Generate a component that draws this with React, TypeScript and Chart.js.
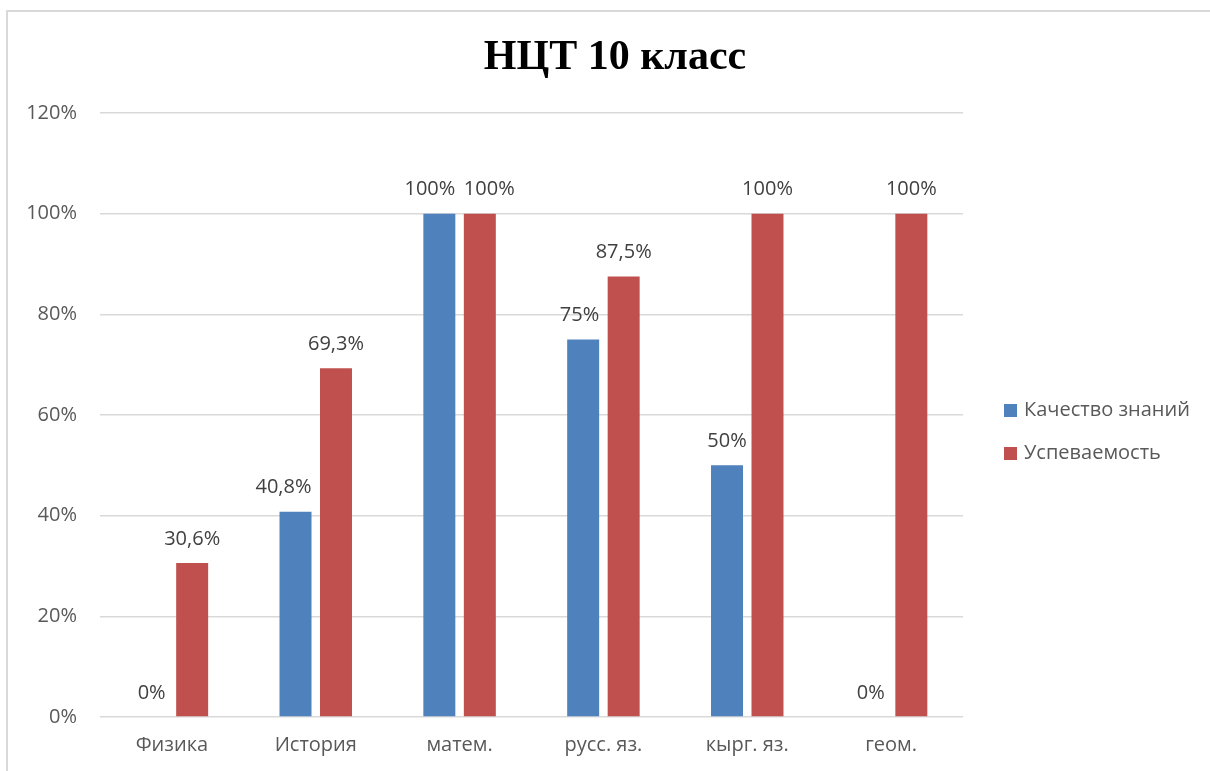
import React, { useEffect, useRef } from "react";
import { Chart, registerables } from "chart.js";

Chart.register(...registerables);

const title = "НЦТ 10 класс";
const categories = ["Физика", "История", "матем.", "русс. яз.", "кырг. яз.", "геом."];
const seriesNames = ["Качество знаний", "Успеваемость"];
const quality = [0, 40.8, 100, 75, 50, 0];
const progress = [30.6, 69.3, 100, 87.5, 100, 100];
const seriesColors = ["#4f81bd", "#c0504d"];
// data-label alignment relative to its bar (style only)
const qualityLabelAlign = ["center", "right", "right", "right", "center", "center"];
const progressLabelAlign = ["center", "center", "left", "center", "center", "center"];
const labelAligns = [qualityLabelAlign, progressLabelAlign];

const FONT = "'Open Sans', 'Liberation Sans', sans-serif";
const TEXT = "#595959";

const fmt = (v: number) => `${String(v).replace(".", ",")}%`;

const overlayPlugin = {
  id: "overlay",
  afterDatasetsDraw(chart: any) {
    const ctx = chart.ctx;
    ctx.save();
    ctx.fillStyle = "#404040";
    ctx.font = `20px ${FONT}`;
    ctx.textBaseline = "middle";
    chart.data.datasets.forEach((ds: any, di: number) => {
      const meta = chart.getDatasetMeta(di);
      meta.data.forEach((el: any, i: number) => {
        const align = labelAligns[di][i];
        let x = el.x;
        if (align === "right") x = el.x + el.width / 2;
        if (align === "left") x = el.x - el.width / 2;
        ctx.textAlign = align;
        ctx.fillText(fmt(ds.data[i]), x, el.y - 24);
      });
    });
    ctx.restore();
  },
  afterDraw(chart: any) {
    const ctx = chart.ctx;
    ctx.save();
    ctx.fillStyle = "#000000";
    ctx.font = `bold 42px 'Liberation Serif', 'Times New Roman', serif`;
    ctx.textAlign = "center";
    ctx.textBaseline = "middle";
    ctx.fillText(title, 607, 46);
    ctx.font = `20px ${FONT}`;
    ctx.textAlign = "left";
    chart.data.datasets.forEach((ds: any, di: number) => {
      const cy = 398 + di * 43;
      ctx.fillStyle = ds.backgroundColor;
      ctx.fillRect(996, cy - 6, 13, 13);
      ctx.fillStyle = TEXT;
      ctx.fillText(ds.label, 1016, cy);
    });
    ctx.restore();
  },
};

export default function App() {
  const ref = useRef<HTMLCanvasElement | null>(null);
  useEffect(() => {
    if (!ref.current) return;
    const chart = new Chart(ref.current, {
      type: "bar",
      data: {
        labels: categories,
        datasets: [
          { label: seriesNames[0], data: quality, backgroundColor: seriesColors[0] },
          { label: seriesNames[1], data: progress, backgroundColor: seriesColors[1] },
        ],
      },
      options: {
        responsive: false,
        animation: false,
        devicePixelRatio: 1,
        layout: { padding: { top: 101, right: 247, left: 0, bottom: 0 } },
        datasets: { bar: { categoryPercentage: 0.563, barPercentage: 0.79 } },
        plugins: {
          legend: { display: false },
          title: { display: false },
          tooltip: { enabled: false },
        },
        scales: {
          x: {
            grid: { display: false, drawTicks: false },
            border: { display: false },
            ticks: { color: TEXT, font: { family: FONT, size: 20 }, padding: 16 },
            afterFit: (s: any) => { s.height = 54; },
          },
          y: {
            min: 0,
            max: 120,
            grid: { color: "#d9d9d9", lineWidth: 1.5, drawTicks: false },
            border: { display: false },
            ticks: {
              stepSize: 20,
              color: TEXT,
              font: { family: FONT, size: 20 },
              padding: 23,
              callback: (v: any) => `${v}%`,
            },
            afterFit: (s: any) => { s.width = 92; },
          },
        },
      },
      plugins: [overlayPlugin],
    });
    return () => chart.destroy();
  }, []);
  return (
    <div
      style={{
        position: "absolute",
        left: 6,
        top: 10,
        width: 1202,
        height: 759,
        borderLeft: "2px solid #d9d9d9",
        borderTop: "2px solid #d9d9d9",
        background: "#fff",
      }}
    >
      <canvas ref={ref} width={1202} height={759} style={{ display: "block" }} />
    </div>
  );
}
